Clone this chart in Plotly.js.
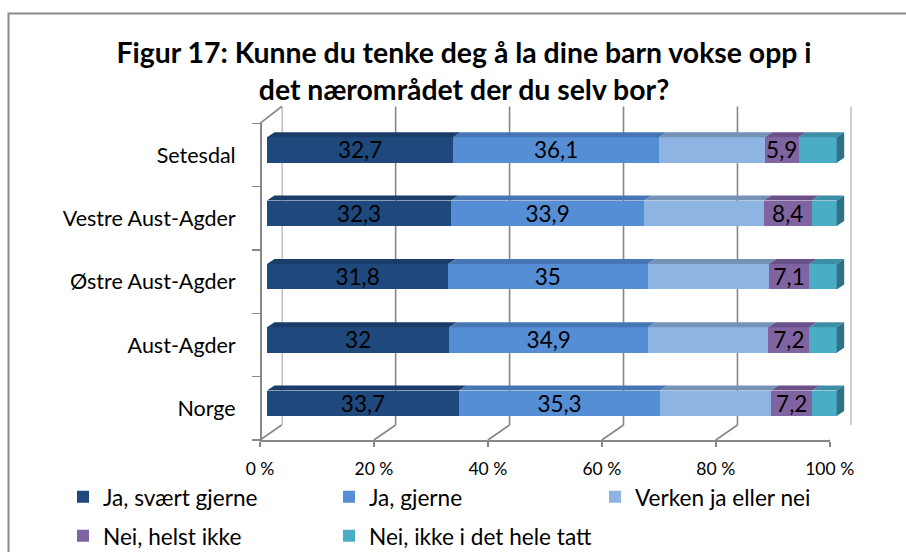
<!DOCTYPE html>
<html><head><meta charset="utf-8">
<script src="https://cdn.plot.ly/plotly-3.0.1.min.js"></script>
<style>html,body{margin:0;padding:0;background:#fff}#chart{width:906px;height:552px}</style>
</head><body><div id="chart"></div>
<script>
// ---- data ----
const categories = ['Setesdal', 'Vestre Aust-Agder', 'Østre Aust-Agder', 'Aust-Agder', 'Norge'];
const seriesNames = ['Ja, svært gjerne', 'Ja, gjerne', 'Verken ja eller nei', 'Nei, helst ikke', 'Nei, ikke i det hele tatt'];
const jaSvaertGjerne = [32.7, 32.3, 31.8, 32.0, 33.7];
const jaGjerne = [36.1, 33.9, 35.0, 34.9, 35.3];
const verkenJaEllerNei = [18.6, 21.0, 21.3, 21.1, 19.5];
const neiHelstIkke = [5.9, 8.4, 7.1, 7.2, 7.2];
const neiIkkeIDetHeleTatt = [6.7, 4.4, 4.8, 4.8, 4.3];
const labelledSeries = [true, true, false, true, false];
const xTickValues = [0, 20, 40, 60, 80, 100];
const xTickLabels = ['0 %', '20 %', '40 %', '60 %', '80 %', '100 %'];
const titleText = 'Figur 17: Kunne du tenke deg å la dine barn vokse opp i<br>det nærområdet der du selv bor?';

// ---- styles / geometry ----
const W = 906, H = 552;
const px = p => p / W;
const py = p => 1 - p / H;
const FONT = 'Lato, "Open Sans", sans-serif';
const GRID = '#878787';
const frontColors = ['#1F497D', '#558ED5', '#8DB4E2', '#8064A2', '#4BACC6'];
const topColors = ['#193C68', '#4676B4', '#7492B6', '#6A5189', '#3C8EA4'];
const sideColor = '#2E7385';

const BAR_PX0 = 267, UNIT = 5.697;          // bar plane: 0% at 267px
const FRONT_PX0 = 260, WALL_PX0 = 281.7;    // floor front / back wall 0%
const SLOT_TOP = 123.3, SLOT_BOT = 440;     // category slots (px)
const WALL_TOP = 106.5, WALL_BOT = 425;
const BAR_W = 0.403, BAR_OFF = -0.2805;
const DX = 7.5 / UNIT, DY = 5 / ((SLOT_BOT - SLOT_TOP) / 5);
const XMAX = 105;

const seriesValues = [jaSvaertGjerne, jaGjerne, verkenJaEllerNei, neiHelstIkke, neiIkkeIDetHeleTatt];
const yPos = categories.map((c, i) => i);
const fmt = v => String(v).replace('.', ',');

const traces = seriesValues.map((vals, s) => ({
  type: 'bar', orientation: 'h', name: seriesNames[s],
  x: vals, y: yPos, width: BAR_W, offset: BAR_OFF,
  marker: {color: frontColors[s], line: {width: 0}},
  text: labelledSeries[s] ? vals.map(fmt) : vals.map(() => ''),
  textposition: labelledSeries[s] ? 'inside' : 'none',
  insidetextanchor: 'middle', constraintext: 'none', textangle: 0,
  textfont: {family: FONT, size: 22.5, color: '#000'},
  legend: s < 3 ? 'legend' : 'legend2',
  hoverinfo: 'skip'
}));

// 3D faces of the bars (computed from the data, in data coordinates)
const shapes = [];
categories.forEach((c, i) => {
  let start = 0;
  const yTop = i + BAR_OFF, yBot = yTop + BAR_W;
  seriesValues.forEach((vals, s) => {
    const x0 = start, x1 = start + vals[i];
    shapes.push({type: 'path', xref: 'x', yref: 'y', layer: 'above',
      path: `M${x0},${yTop} L${x1},${yTop} L${x1 + DX},${yTop - DY} L${x0 + DX},${yTop - DY} Z`,
      fillcolor: topColors[s], line: {width: 0}});
    if (s === seriesValues.length - 1) {
      shapes.push({type: 'path', xref: 'x', yref: 'y', layer: 'above',
        path: `M${x1},${yTop} L${x1 + DX},${yTop - DY} L${x1 + DX},${yBot - DY} L${x1},${yBot} Z`,
        fillcolor: sideColor, line: {width: 0}});
    }
    start = x1;
  });
});
// back wall gridlines and floor diagonals
xTickValues.forEach(v => {
  shapes.push({type: 'line', xref: 'x2', yref: 'paper', layer: 'below',
    x0: v, x1: v, y0: py(WALL_BOT), y1: py(WALL_TOP), line: {color: GRID, width: 1.6}});
  shapes.push({type: 'line', xref: 'x3', yref: 'paper', layer: 'below',
    x0: v, x1: v + (WALL_PX0 - FRONT_PX0) / UNIT, y0: py(SLOT_BOT), y1: py(WALL_BOT), line: {color: GRID, width: 1.6}});
});
// left wall top edge
shapes.push({type: 'line', xref: 'paper', yref: 'paper', layer: 'below',
  x0: px(FRONT_PX0), x1: px(WALL_PX0), y0: py(SLOT_TOP), y1: py(WALL_TOP), line: {color: GRID, width: 1.6}});
// chart border
shapes.push({type: 'rect', xref: 'paper', yref: 'paper', layer: 'below',
  x0: px(8.5), x1: 1.02, y0: -0.02, y1: py(13.5), line: {color: '#8a8a8a', width: 2}, fillcolor: 'rgba(0,0,0,0)'});

const legendBase = {orientation: 'h', x: px(63), xanchor: 'left', yanchor: 'middle',
  entrywidthmode: 'pixels', entrywidth: 221, font: {family: FONT, size: 22.6, color: '#000'},
  bgcolor: 'rgba(0,0,0,0)', borderwidth: 0, traceorder: 'normal'};

const layout = {
  width: W, height: H,
  margin: {l: 0, r: 0, t: 0, b: 0, autoexpand: false},
  paper_bgcolor: '#fff', plot_bgcolor: 'rgba(0,0,0,0)',
  font: {family: FONT, color: '#000'},
  barmode: 'stack', hovermode: false,
  title: {text: titleText, x: px(464), xanchor: 'center', xref: 'paper',
    y: py(63), yanchor: 'top', yref: 'paper', automargin: false,
    font: {family: FONT, size: 28.4, color: '#000', weight: 'bold'}},
  xaxis: {domain: [px(BAR_PX0), px(BAR_PX0 + XMAX * UNIT)], range: [0, XMAX],
    visible: false, fixedrange: true},
  yaxis: {domain: [py(SLOT_BOT), py(SLOT_TOP)], range: [4.5, -0.5], anchor: 'free', position: px(FRONT_PX0),
    tickmode: 'array', tickvals: yPos, ticktext: categories,
    ticks: 'outside', ticklen: 8, tickcolor: 'rgba(0,0,0,0)',
    minor: {tickmode: 'linear', tick0: 0.5, dtick: 1, ticks: 'outside', ticklen: 8, tickcolor: GRID, tickwidth: 1.6, showgrid: false},
    showline: true, linecolor: GRID, linewidth: 1.6, showgrid: false, zeroline: false,
    ticklabelstandoff: 12, automargin: false,
    tickfont: {family: FONT, size: 21.5, color: '#000'}, fixedrange: true},
  xaxis2: {domain: [px(WALL_PX0), px(WALL_PX0 + 100 * UNIT)], range: [0, 100], anchor: 'free', position: 0,
    visible: false, fixedrange: true},
  xaxis3: {domain: [px(FRONT_PX0), px(FRONT_PX0 + 100 * UNIT)], range: [0, 100], anchor: 'free', position: py(SLOT_BOT),
    tickmode: 'array', tickvals: xTickValues, ticktext: xTickLabels,
    ticks: 'outside', ticklen: 5, tickcolor: GRID, tickwidth: 1.6,
    showline: true, linecolor: GRID, linewidth: 1.6, showgrid: false, zeroline: false,
    ticklabelstandoff: 7, automargin: false,
    tickfont: {family: FONT, size: 17.5, color: '#000'}, fixedrange: true},
  legend: Object.assign({}, legendBase, {y: py(497)}),
  legend2: Object.assign({}, legendBase, {y: py(536)}),
  shapes: shapes,
  showlegend: true
};

Plotly.newPlot('chart', traces, layout, {displayModeBar: false, staticPlot: true, responsive: false});
</script>
</body></html>
